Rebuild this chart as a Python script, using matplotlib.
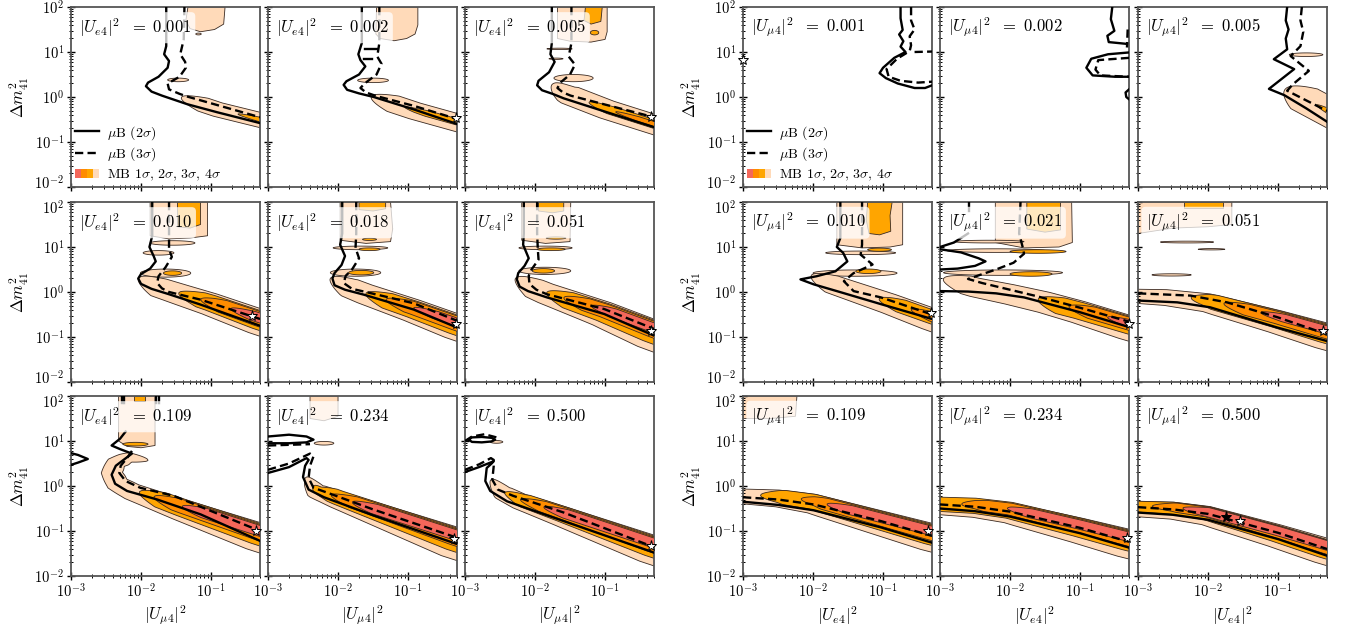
import numpy as np
import matplotlib
matplotlib.use('Agg')
import matplotlib.pyplot as plt
import matplotlib.transforms as mtransforms
from matplotlib.lines import Line2D
from matplotlib.patches import Patch
from matplotlib.legend_handler import HandlerTuple

plt.rcParams['mathtext.fontset'] = 'cm'
plt.rcParams['font.family'] = 'serif'
plt.rcParams['font.serif'] = ['cmr10']
plt.rcParams['axes.formatter.use_mathtext'] = True
plt.rcParams['axes.unicode_minus'] = False

# valores fijos de cada panel (fila por fila)
LEFT_FIXED = ['0.001', '0.002', '0.005', '0.010', '0.018', '0.051', '0.109', '0.234', '0.500']
RIGHT_FIXED = ['0.001', '0.002', '0.005', '0.010', '0.021', '0.051', '0.109', '0.234', '0.500']

# colores MB: 4sigma, 3sigma, 2sigma, 1sigma
MB_COLORS = ['#FFDAB9', '#FFA500', '#FF8C00', '#F4675A']

# --- contornos, en (log10 x, log10 y) ---
# muB 2 sigma (linea continua), grupo izquierdo
left_mub2 = [
    [[(-1.64, 2.0), (-1.64, 1.13), (-1.67, 0.95), (-1.6, 0.8), (-1.62, 0.65), (-1.75, 0.45), (-1.9, 0.32), (-1.93, 0.24), (-1.85, 0.12), (-1.7, 0.03), (-1.34, -0.16), (-0.91, -0.34), (-0.3, -0.58)]],
    [[(-1.66, 2.0), (-1.66, 1.2), (-1.71, 0.95), (-1.68, 0.82), (-1.61, 0.68), (-1.7, 0.5), (-1.88, 0.35), (-1.92, 0.27), (-1.87, 0.16), (-1.7, 0.08), (-1.49, 0.0), (-0.91, -0.28), (-0.3, -0.6)],
     [(-1.61, 1.07), (-1.44, 1.07)], [(-1.63, 0.84), (-1.52, 0.84)]],
    [[(-1.76, 2.0), (-1.76, 1.2), (-1.78, 0.95), (-1.72, 0.78), (-1.8, 0.55), (-1.95, 0.36), (-1.97, 0.26), (-1.9, 0.15), (-1.75, 0.07), (-1.59, -0.03), (-0.97, -0.34), (-0.3, -0.67)]],
    [[(-1.84, 2.0), (-1.84, 1.25), (-1.88, 1.0), (-1.82, 0.8), (-1.79, 0.68), (-1.87, 0.52), (-2.0, 0.4), (-2.04, 0.3), (-2.0, 0.18), (-1.85, 0.07), (-1.6, -0.05), (-1.15, -0.28), (-0.3, -0.75)]],
    [[(-1.94, 2.0), (-1.94, 1.3), (-1.97, 1.05), (-1.9, 0.8), (-1.95, 0.6), (-2.05, 0.42), (-2.08, 0.3), (-2.05, 0.15), (-1.9, 0.05), (-1.63, -0.06), (-0.92, -0.39), (-0.3, -0.79)]],
    [[(-2.16, 2.0), (-2.16, 1.3), (-2.17, 1.05), (-2.09, 0.75), (-2.15, 0.58), (-2.24, 0.42), (-2.26, 0.28), (-2.22, 0.12), (-2.1, 0.02), (-1.83, -0.12), (-1.01, -0.49), (-0.3, -0.97)]],
    [[(-2.22, 1.21), (-2.3, 1.05), (-2.42, 0.9), (-2.3, 0.82), (-2.13, 0.72), (-2.25, 0.58), (-2.36, 0.45), (-2.42, 0.25), (-2.37, 0.05), (-2.2, -0.11), (-1.77, -0.3), (-1.15, -0.63), (-0.3, -1.22)],
     [(-3.0, 0.73), (-2.9, 0.69), (-2.76, 0.6), (-2.9, 0.52), (-3.0, 0.47)],
     [(-2.27, 2.0), (-2.27, 1.85)], [(-1.78, 2.0), (-1.78, 1.85)]],
    [[(-3.0, 0.29), (-2.7, 0.42), (-2.45, 0.62), (-2.42, 0.58), (-2.47, 0.45), (-2.5, 0.2), (-2.42, -0.08), (-2.2, -0.25), (-1.5, -0.65), (-0.3, -1.29)],
     [(-3.0, 1.1), (-2.7, 1.14), (-2.45, 1.1), (-2.35, 1.03), (-2.45, 0.97), (-2.7, 0.95), (-3.0, 0.95)]],
    [[(-3.0, 0.31), (-2.8, 0.42), (-2.59, 0.55), (-2.62, 0.5), (-2.69, 0.4), (-2.71, 0.11), (-2.64, -0.11), (-2.4, -0.34), (-1.59, -0.78), (-0.3, -1.48)],
     [(-2.95, 1.03), (-2.9, 1.08), (-2.76, 1.09), (-2.62, 1.07), (-2.57, 1.03), (-2.62, 0.99), (-2.76, 0.97), (-2.9, 0.98), (-2.95, 1.03)]],
]

# muB 3 sigma (discontinua), grupo izquierdo
left_mub3 = [
    [[(-1.38, 2.0), (-1.39, 1.28), (-1.44, 0.95), (-1.37, 0.78), (-1.36, 0.65), (-1.45, 0.45), (-1.62, 0.3), (-1.6, 0.17), (-1.45, 0.07), (-1.34, 0.01), (-0.91, -0.18), (-0.3, -0.45)]],
    [[(-1.41, 2.0), (-1.41, 1.2), (-1.44, 0.9), (-1.38, 0.74), (-1.45, 0.5), (-1.62, 0.3), (-1.68, 0.2), (-1.6, 0.1), (-1.45, 0.02), (-0.91, -0.2), (-0.3, -0.49)]],
    [[(-1.48, 2.0), (-1.48, 1.2), (-1.52, 0.9), (-1.43, 0.72), (-1.5, 0.5), (-1.63, 0.33), (-1.68, 0.2), (-1.6, 0.1), (-1.49, 0.03), (-0.97, -0.18), (-0.3, -0.45)]],
    [[(-1.6, 2.0), (-1.6, 1.1), (-1.6, 0.95), (-1.56, 0.78), (-1.65, 0.55), (-1.75, 0.35), (-1.77, 0.2), (-1.7, 0.08), (-1.6, 0.0), (-1.15, -0.17), (-0.3, -0.6)]],
    [[(-1.74, 2.0), (-1.74, 1.3), (-1.75, 0.98), (-1.7, 0.75), (-1.8, 0.5), (-1.89, 0.36), (-1.92, 0.2), (-1.8, 0.07), (-1.63, 0.01), (-0.92, -0.25), (-0.3, -0.64)]],
    [[(-1.97, 2.0), (-1.97, 1.3), (-1.96, 0.95), (-1.95, 0.72), (-2.05, 0.5), (-2.09, 0.36), (-2.08, 0.18), (-1.98, 0.05), (-1.83, -0.05), (-1.01, -0.38), (-0.3, -0.82)]],
    [[(-2.13, 0.78), (-2.2, 0.62), (-2.29, 0.45), (-2.31, 0.29), (-2.22, 0.11), (-2.01, -0.04), (-1.53, -0.22), (-0.3, -1.0)],
     [(-2.25, 2.0), (-2.25, 1.8)], [(-1.75, 2.0), (-1.75, 1.8)]],
    [[(-3.0, 0.36), (-2.7, 0.5), (-2.4, 0.72), (-2.35, 0.66), (-2.4, 0.45), (-2.42, 0.18), (-2.35, -0.04), (-2.15, -0.15), (-1.5, -0.52), (-0.3, -1.15)],
     [(-3.0, 0.9), (-2.4, 0.93)]],
    [[(-3.0, 0.36), (-2.8, 0.48), (-2.63, 0.62), (-2.59, 0.58), (-2.59, 0.44), (-2.61, 0.14), (-2.53, -0.08), (-2.31, -0.22), (-1.59, -0.59), (-0.3, -1.36)],
     [(-3.0, 1.0), (-2.9, 1.1), (-2.72, 1.15), (-2.55, 1.08), (-2.52, 1.0)]],
]

# eje central de la banda diagonal MB (grupo izquierdo)
left_center = [
    [(-1.42, 0.0), (-0.9, -0.27), (-0.3, -0.5)],
    [(-1.52, 0.02), (-0.9, -0.3), (-0.3, -0.56)],
    [(-1.74, 0.3), (-1.55, 0.08), (-0.97, -0.27), (-0.3, -0.6)],
    [(-2.03, 0.32), (-1.75, 0.12), (-1.4, -0.04), (-1.0, -0.22), (-0.3, -0.58)],
    [(-2.1, 0.32), (-1.85, 0.12), (-1.6, -0.02), (-0.92, -0.35), (-0.3, -0.68)],
    [(-2.27, 0.32), (-2.0, 0.1), (-1.83, 0.0), (-1.0, -0.4), (-0.3, -0.8)],
    [(-1.9, 0.57), (-2.15, 0.62), (-2.33, 0.5), (-2.38, 0.3), (-2.3, 0.08), (-2.1, -0.08), (-1.4, -0.45), (-0.3, -1.0)],
    [(-2.45, 0.2), (-2.3, -0.08), (-2.0, -0.25), (-1.5, -0.5), (-0.3, -1.1)],
    [(-2.62, 0.15), (-2.45, -0.12), (-2.2, -0.3), (-1.6, -0.6), (-0.3, -1.27)],
]

# niveles (inicio en log10 x, ancho arriba, ancho abajo) para 4s, 3s, 2s, 1s
left_levels = [
    [(-9, 0.15, 0.17), (-0.62, 0.05, 0.05), None, None],
    [(-9, 0.18, 0.2), (-1.05, 0.07, 0.06), None, None],
    [(-9, 0.2, 0.22), (-1.23, 0.09, 0.09), (-0.85, 0.05, 0.05), None],
    [(-9, (0.2, 0.19), (0.2, 0.36)), (-1.46, 0.15, (0.12, 0.25)), (-1.15, 0.13, (0.1, 0.18)), (-0.72, 0.1, 0.1)],
    [(-9, (0.2, 0.18), (0.2, 0.37)), (-1.6, 0.15, (0.15, 0.26)), (-1.32, 0.13, (0.1, 0.17)), (-0.92, 0.09, 0.08)],
    [(-9, (0.2, 0.17), (0.2, 0.47)), (-1.83, 0.15, (0.15, 0.32)), (-1.59, 0.13, (0.1, 0.2)), (-1.2, 0.1, 0.1)],
    [(-9, (0.1, 0.17), (0.12, 0.44)), (-2.03, 0.15, (0.1, 0.3)), (-1.82, 0.13, (0.08, 0.2)), (-1.41, 0.11, 0.11)],
    [(-9, (0.12, 0.17), (0.15, 0.5)), (-2.35, 0.15, (0.1, 0.34)), (-2.1, 0.13, (0.08, 0.22)), (-1.8, 0.11, 0.11)],
    [(-9, (0.12, 0.16), (0.15, 0.45)), (-2.43, 0.14, (0.1, 0.3)), (-2.21, 0.12, (0.08, 0.2)), (-1.88, 0.1, 0.1)],
]

# islas MB (centro x, centro y, semiancho, semialto, nivel)
left_blobs = [
    [(-1.47, 0.38, 0.15, 0.04, 0), (-1.18, 1.4, 0.04, 0.02, 0)],
    [(-1.5, 0.37, 0.22, 0.05, 0)],
    [(-1.45, 0.42, 0.28, 0.08, 0), (-1.65, 1.07, 0.18, 0.015, 0), (-1.7, 0.85, 0.1, 0.015, 0), (-1.15, 1.43, 0.06, 0.05, 1)],
    [(-1.65, 0.42, 0.36, 0.09, 0), (-1.55, 0.42, 0.13, 0.05, 1), (-1.55, 1.09, 0.32, 0.05, 0), (-1.75, 0.87, 0.22, 0.05, 0)],
    [(-1.75, 0.43, 0.36, 0.08, 0), (-1.67, 0.43, 0.18, 0.05, 1), (-1.68, 0.98, 0.39, 0.04, 0), (-1.55, 0.95, 0.15, 0.03, 1), (-1.55, 1.17, 0.1, 0.025, 1)],
    [(-1.86, 0.47, 0.37, 0.08, 0), (-1.88, 0.47, 0.16, 0.05, 1), (-1.85, 0.98, 0.38, 0.04, 0), (-1.77, 0.95, 0.2, 0.03, 1), (-1.7, 1.2, 0.14, 0.025, 1)],
    [(-2.08, 0.93, 0.18, 0.04, 1)],
    [(-2.2, 0.95, 0.14, 0.04, 0)],
    [(-2.55, 0.98, 0.09, 0.03, 0)],
]

# regiones MB que llegan al borde superior (nivel, vertices)
left_cols = [
    [(0, [(-1.33, 2.0), (-1.36, 1.7), (-1.3, 1.52), (-1.15, 1.45), (-0.95, 1.5), (-0.82, 1.62), (-0.8, 2.0)])],
    [(0, [(-1.45, 2.0), (-1.46, 1.4), (-1.4, 1.3), (-1.2, 1.25), (-1.02, 1.3), (-0.9, 1.4), (-0.86, 1.6), (-0.86, 2.0)])],
    [(0, [(-1.68, 2.0), (-1.68, 1.3), (-1.5, 1.24), (-1.2, 1.22), (-1.0, 1.28), (-0.97, 1.45), (-0.97, 2.0)]),
     (1, [(-1.28, 2.0), (-1.3, 1.7), (-1.2, 1.62), (-1.06, 1.68), (-1.04, 2.0)])],
    [(0, [(-1.87, 2.0), (-1.87, 1.25), (-1.6, 1.18), (-1.3, 1.2), (-1.05, 1.25), (-1.05, 2.0)]),
     (1, [(-1.48, 2.0), (-1.48, 1.45), (-1.3, 1.42), (-1.15, 1.5), (-1.15, 2.0)])],
    [(0, [(-1.97, 2.0), (-1.97, 1.15), (-1.6, 1.08), (-1.25, 1.12), (-1.22, 1.4), (-1.25, 2.0)]),
     (1, [(-1.7, 2.0), (-1.7, 1.83), (-1.5, 1.8), (-1.32, 1.85), (-1.32, 2.0)])],
    [(0, [(-2.19, 2.0), (-2.19, 1.15), (-1.85, 1.08), (-1.5, 1.12), (-1.49, 2.0)]),
     (1, [(-1.95, 2.0), (-1.95, 1.8), (-1.75, 1.76), (-1.59, 1.8), (-1.59, 2.0)])],
    [(0, [(-2.32, 2.0), (-2.32, 1.0), (-2.2, 0.88), (-2.0, 0.85), (-1.8, 0.9), (-1.8, 2.0)]),
     (1, [(-2.1, 2.0), (-2.1, 1.9), (-1.95, 1.9), (-1.95, 2.0)])],
    [(0, [(-2.4, 2.0), (-2.4, 1.5), (-2.2, 1.45), (-2.0, 1.55), (-2.0, 2.0)])],
    [],
]

left_stars = [[], [(-0.31, -0.47, 'w')], [(-0.34, -0.45, 'w')], [(-0.41, -0.53, 'w')], [(-0.32, -0.7, 'w')],
              [(-0.34, -0.86, 'w')], [(-0.36, -1.0, 'w')], [(-0.35, -1.18, 'w')], [(-0.34, -1.33, 'w')]]

# --- grupo derecho ---
right_mub2 = [
    [[(-0.75, 2.0), (-0.75, 1.75), (-0.72, 1.49), (-0.77, 1.39), (-0.71, 1.24), (-0.75, 1.12), (-0.68, 1.0), (-0.84, 0.87), (-1.0, 0.65), (-1.05, 0.53), (-0.96, 0.42), (-0.79, 0.3), (-0.55, 0.2), (-0.4, 0.2), (-0.3, 0.26)]],
    [[(-0.54, 2.0), (-0.56, 1.73), (-0.51, 1.47), (-0.61, 1.36), (-0.59, 1.22), (-0.33, 1.18)],
     [(-0.3, 0.99), (-0.6, 0.95), (-0.84, 0.85), (-0.91, 0.65), (-0.82, 0.48), (-0.5, 0.45), (-0.3, 0.45)],
     [(-0.3, 0.17), (-0.35, 0.1), (-0.34, 0.0), (-0.3, -0.05)]],
    [[(-0.87, 2.0), (-0.89, 1.7), (-0.85, 1.5), (-0.89, 1.3), (-0.87, 1.06), (-1.06, 0.84), (-0.77, 0.62), (-1.13, 0.18), (-0.91, 0.04), (-0.6, -0.25), (-0.3, -0.55)]],
    [[(-1.61, 2.0), (-1.61, 1.2), (-1.66, 1.0), (-1.57, 0.87), (-1.51, 0.68), (-1.68, 0.46), (-1.95, 0.35), (-2.18, 0.28), (-1.99, 0.17), (-1.66, 0.02), (-1.03, -0.27), (-0.3, -0.6)]],
    [[(-2.58, 2.0), (-2.58, 1.8)], [(-2.6, 1.3), (-2.8, 1.1), (-3.0, 1.0)],
     [(-3.0, 0.95), (-2.7, 0.88), (-2.45, 0.75), (-2.35, 0.68), (-2.5, 0.58), (-2.75, 0.52), (-3.0, 0.5)],
     [(-3.0, 0.02), (-2.6, 0.01), (-2.2, -0.03), (-1.8, -0.12), (-1.0, -0.45), (-0.3, -0.78)]],
    [[(-3.0, -0.19), (-2.44, -0.23), (-1.97, -0.34), (-1.01, -0.79), (-0.3, -1.09)]],
    [[(-3.0, -0.35), (-2.5, -0.42), (-1.99, -0.54), (-1.03, -0.92), (-0.3, -1.26)]],
    [[(-3.0, -0.5), (-2.5, -0.56), (-2.0, -0.68), (-1.0, -1.05), (-0.3, -1.37)]],
    [[(-3.0, -0.59), (-2.5, -0.64), (-2.0, -0.75), (-1.0, -1.18), (-0.3, -1.55)]],
]

right_mub3 = [
    [[(-0.6, 2.0), (-0.6, 1.7), (-0.55, 1.5), (-0.62, 1.35), (-0.6, 1.15), (-0.62, 1.02), (-0.8, 0.85), (-0.95, 0.62), (-0.92, 0.45), (-0.75, 0.36), (-0.5, 0.32), (-0.3, 0.34)],
     [(-0.55, 1.0), (-0.3, 1.01)]],
    [[(-0.32, 1.5), (-0.33, 1.1)], [(-0.3, 0.87), (-0.74, 0.82), (-0.78, 0.61), (-0.71, 0.48), (-0.3, 0.45)]],
    [[(-0.66, 2.0), (-0.68, 1.7), (-0.64, 1.45), (-0.68, 1.13), (-0.82, 0.91), (-0.56, 0.58), (-0.79, 0.28), (-0.87, 0.14), (-0.63, -0.05), (-0.3, -0.31)]],
    [[(-1.3, 2.0), (-1.3, 1.05), (-1.32, 0.83), (-1.15, 0.61), (-1.42, 0.42), (-1.56, 0.24), (-1.42, 0.02), (-1.03, -0.12), (-0.3, -0.5)]],
    [[(-1.85, 2.0), (-1.87, 1.3), (-1.82, 1.0), (-1.8, 0.85), (-1.95, 0.65), (-2.2, 0.5), (-2.6, 0.29), (-2.4, 0.2), (-2.0, 0.05), (-1.6, -0.1), (-1.0, -0.35), (-0.3, -0.66)]],
    [[(-3.0, -0.03), (-2.25, -0.08), (-1.73, -0.23), (-1.01, -0.56), (-0.3, -0.94)]],
    [[(-3.0, -0.25), (-2.5, -0.3), (-1.99, -0.41), (-1.03, -0.78), (-0.3, -1.11)]],
    [[(-3.0, -0.41), (-2.5, -0.46), (-2.0, -0.57), (-1.0, -0.93), (-0.3, -1.24)]],
    [[(-3.0, -0.47), (-2.5, -0.52), (-2.0, -0.62), (-1.0, -1.04), (-0.3, -1.4)]],
]

right_center = [
    None,
    None,
    [(-0.88, 0.2), (-0.6, -0.05), (-0.3, -0.3)],
    [(-2.02, 0.38), (-1.7, 0.18), (-1.3, -0.02), (-0.9, -0.22), (-0.3, -0.55)],
    [(-2.95, 0.3), (-2.5, 0.12), (-2.0, -0.02), (-1.5, -0.18), (-1.0, -0.38), (-0.3, -0.7)],
    [(-3.4, -0.03), (-2.6, -0.06), (-2.0, -0.16), (-1.0, -0.55), (-0.3, -0.85)],
    [(-3.4, -0.17), (-2.5, -0.22), (-2.0, -0.32), (-1.0, -0.72), (-0.3, -1.0)],
    [(-3.4, -0.37), (-2.5, -0.41), (-2.0, -0.5), (-1.0, -0.86), (-0.3, -1.13)],
    [(-3.4, -0.42), (-2.5, -0.46), (-2.0, -0.56), (-1.0, -0.98), (-0.3, -1.3)],
]

right_levels = [
    None,
    None,
    [(-9, 0.28, 0.3), (-0.45, 0.07, 0.06), None, None],
    [(-9, 0.18, (0.2, 0.3)), (-1.06, 0.14, 0.15), (-0.6, 0.11, 0.1), None],
    [(-9, (0.2, 0.17), (0.2, 0.36)), (-1.6, 0.15, 0.22), (-1.16, 0.13, 0.14), (-0.61, 0.09, 0.08)],
    [(-9, (0.1, 0.15), (0.18, 0.42)), (-2.25, 0.13, (0.12, 0.28)), (-1.78, 0.11, (0.08, 0.18)), (-1.25, 0.09, 0.08)],
    [(-9, (0.12, 0.16), (0.17, 0.44)), (-2.76, 0.14, (0.12, 0.3)), (-2.18, 0.12, (0.08, 0.2)), (-1.8, 0.1, 0.1)],
    [(-9, (0.1, 0.16), (0.22, 0.46)), (-3.5, 0.14, (0.16, 0.3)), (-2.7, 0.12, (0.1, 0.2)), (-2.04, 0.1, 0.1)],
    [(-9, (0.09, 0.13), (0.22, 0.43)), (-3.5, 0.1, (0.12, 0.3)), (-2.8, 0.09, (0.08, 0.2)), (-2.37, 0.08, 0.12)],
]

right_blobs = [
    [],
    [],
    [(-0.6, 0.94, 0.24, 0.04, 0)],
    [(-1.4, 0.42, 0.6, 0.07, 0), (-1.21, 0.46, 0.18, 0.05, 1), (-1.32, 0.87, 0.5, 0.04, 0), (-1.05, 0.94, 0.17, 0.035, 1)],
    [(-2.1, 0.43, 0.85, 0.06, 0), (-1.7, 0.4, 0.3, 0.05, 1), (-1.6, 0.9, 0.4, 0.04, 1), (-2.2, 0.92, 0.7, 0.04, 0), (-2.3, 1.12, 0.5, 0.03, 0)],
    [(-2.3, 1.11, 0.38, 0.02, 0), (-1.95, 0.95, 0.19, 0.015, 0), (-2.52, 0.38, 0.28, 0.025, 0)],
    [],
    [],
    [],
]

right_cols = [
    [],
    [],
    [],
    [(0, [(-1.66, 2.0), (-1.66, 1.05), (-1.3, 0.98), (-0.9, 1.0), (-0.72, 1.05), (-0.72, 2.0)]),
     (1, [(-1.22, 2.0), (-1.24, 1.6), (-1.2, 1.3), (-1.05, 1.27), (-0.89, 1.35), (-0.9, 1.7), (-0.87, 2.0)])],
    [(0, [(-2.21, 2.0), (-2.21, 1.1), (-1.8, 0.98), (-1.3, 1.0), (-1.11, 1.1), (-1.12, 2.0)]),
     (1, [(-1.76, 2.0), (-1.76, 1.4), (-1.5, 1.33), (-1.28, 1.38), (-1.28, 2.0)])],
    [(0, [(-3.0, 2.0), (-3.0, 1.3), (-2.5, 1.42), (-2.0, 1.45), (-1.66, 1.5), (-1.66, 2.0)]),
     (1, [(-2.35, 2.0), (-2.35, 1.87), (-1.78, 1.87), (-1.78, 2.0)])],
    [(0, [(-3.0, 2.0), (-3.0, 1.5), (-2.6, 1.5), (-2.25, 1.55), (-2.23, 2.0)])],
    [],
    [],
]

right_stars = [[(-3.0, 0.83, 'w')], [], [], [(-0.32, -0.47, 'w')], [(-0.3, -0.72, 'w')], [(-0.36, -0.86, 'w')],
               [(-0.36, -1.0, 'w')], [(-0.33, -1.15, 'w')], [(-1.55, -0.78, 'w'), (-1.74, -0.69, 'k')]]

EDGE = '#3a2a22'


def width(w, t):
    if isinstance(w, tuple):
        return w[0] + (w[1] - w[0]) * t
    return w * np.ones_like(t)


def band_outline(center, start, up, down, taper=0.35):
    c = np.asarray(center, float)
    # prolongar el ultimo tramo fuera del eje para que la banda llegue al borde
    d = c[-1] - c[-2]
    c = np.vstack([c, c[-1] + d / np.hypot(*d) * 0.5])
    seg = np.hypot(np.diff(c[:, 0]), np.diff(c[:, 1]))
    s = np.concatenate([[0.0], np.cumsum(seg)])
    ss = np.linspace(0.0, s[-1], 300)
    lx = np.interp(ss, s, c[:, 0])
    ly = np.interp(ss, s, c[:, 1])
    tx, ty = np.gradient(lx), np.gradient(ly)
    k = np.ones(31) / 31
    tx = np.convolve(np.pad(tx, 15, mode='edge'), k, mode='valid')
    ty = np.convolve(np.pad(ty, 15, mode='edge'), k, mode='valid')
    nrm = np.hypot(tx, ty)
    nx, ny = -ty / nrm, tx / nrm
    below = np.nonzero(lx < start)[0]
    i0 = below[-1] + 1 if len(below) else 0
    t = np.clip(ss[i0:] / s[-2], 0, 1)
    f = np.sqrt(np.clip((ss[i0:] - ss[i0]) / taper, 0, 1))
    wu = width(up, t) * f
    wd = width(down, t) * f
    ux, uy = lx[i0:] + nx[i0:] * wu, ly[i0:] + ny[i0:] * wu
    dx, dy = lx[i0:] - nx[i0:] * wd, ly[i0:] - ny[i0:] * wd
    px = np.concatenate([ux, dx[::-1]])
    py = np.concatenate([uy, dy[::-1]])
    return 10 ** px, 10 ** py


def blob_outline(lx, ly, hw, hh):
    th = np.linspace(0, 2 * np.pi, 80)
    return 10 ** (lx + hw * np.cos(th)), 10 ** (ly + hh * np.sin(th))


def draw_panel(ax, mub2, mub3, center, levels, blobs, cols, stars, label):
    for lev in range(4):
        for (lv, verts) in cols:
            if lv == lev:
                v = np.asarray(verts, float)
                ax.fill(10 ** v[:, 0], 10 ** v[:, 1], fc=MB_COLORS[lev], ec=EDGE, lw=0.6, zorder=1 + lev)
        for (bx, by, hw, hh, lv) in blobs:
            if lv == lev:
                x, y = blob_outline(bx, by, hw, hh)
                ax.fill(x, y, fc=MB_COLORS[lev], ec=EDGE, lw=0.6, zorder=1 + lev)
        if center is not None and levels[lev] is not None:
            st, up, dn = levels[lev]
            x, y = band_outline(center, st, up, dn)
            ax.fill(x, y, fc=MB_COLORS[lev], ec=EDGE, lw=0.6, zorder=1 + lev)

    for line in mub2:
        v = np.asarray(line, float)
        ax.plot(10 ** v[:, 0], 10 ** v[:, 1], color='k', lw=1.7, zorder=6)
    for line in mub3:
        v = np.asarray(line, float)
        ax.plot(10 ** v[:, 0], 10 ** v[:, 1], color='k', lw=1.7, ls='--', dashes=(3.5, 1.8), zorder=6)
    for (sx, sy, fc) in stars:
        ax.plot(10 ** sx, 10 ** sy, marker='*', ms=8, mfc=fc, mec='k', mew=0.7, zorder=7, clip_on=False)

    ax.text(0.04, 0.885, label, transform=ax.transAxes, fontsize=12, va='center', ha='left', zorder=9,
            bbox=dict(boxstyle='round,pad=0.25', fc='white', ec='none', alpha=0.75))


fig = plt.figure(figsize=(13.51, 6.28), dpi=100)
W, H = 1351.0, 628.0
col_px = {'left': [71, 268, 465], 'right': [743, 940, 1138]}
row_px = [7, 202, 396]
pw, ph = 189, 180

groups = [
    ('left', LEFT_FIXED, r'$|U_{e4}|^2\ \ =\ %s$', r'$|U_{\mu4}|^2$',
     left_mub2, left_mub3, left_center, left_levels, left_blobs, left_cols, left_stars),
    ('right', RIGHT_FIXED, r'$|U_{\mu4}|^2\ \ =\ %s$', r'$|U_{e4}|^2$',
     right_mub2, right_mub3, right_center, right_levels, right_blobs, right_cols, right_stars),
]

left_axes = []
for (side, fixed, fmt, xlab, mub2, mub3, centers, levels, blobs, cols, stars) in groups:
    for i in range(9):
        r, c = divmod(i, 3)
        left = col_px[side][c] / W
        bottom = 1 - (row_px[r] + ph) / H
        ax = fig.add_axes([left, bottom, pw / W, ph / H])
        ax.set_xscale('log')
        ax.set_yscale('log')
        ax.set_xlim(1e-3, 0.5)
        ax.set_ylim(1e-2, 1e2)
        ax.set_facecolor('white')

        draw_panel(ax, mub2[i], mub3[i], centers[i], levels[i], blobs[i], cols[i], stars[i],
                   fmt % fixed[i])

        ax.tick_params(which='both', direction='inout', top=False, right=False, labelsize=10.5, pad=2)
        ax.tick_params(which='major', length=6, width=1.0)
        ax.tick_params(which='minor', length=3, width=0.7)
        for sp in ax.spines.values():
            sp.set_color('#555555')
            sp.set_linewidth(1.3)
        if c == 0:
            ax.set_ylabel(r'$\Delta m^2_{41}$', fontsize=12, labelpad=2)
            left_axes.append((ax, r))
        else:
            ax.tick_params(labelleft=False)
        if r == 2:
            ax.set_xlabel(xlab, fontsize=12, labelpad=2)
        else:
            ax.tick_params(labelbottom=False)

        if i == 0:
            handles = [Line2D([], [], color='k', lw=1.7),
                       Line2D([], [], color='k', lw=1.7, ls='--', dashes=(3.5, 1.8)),
                       tuple(Patch(fc=col, ec='none') for col in MB_COLORS[::-1])]
            labels = [r'$\mu$B ($2\sigma$)', r'$\mu$B ($3\sigma$)',
                      r'MB $1\sigma$, $2\sigma$, $3\sigma$, $4\sigma$']
            ax.legend(handles, labels, loc='lower left', frameon=False, fontsize=10,
                      handlelength=1.7, handletextpad=0.6, borderaxespad=0.1, labelspacing=0.3,
                      borderpad=0.2, handler_map={tuple: HandlerTuple(ndivide=None, pad=0)})

# separar un poco las etiquetas 10^2 / 10^-2 que se tocan entre filas
fig.canvas.draw()
for ax, r in left_axes:
    for tick in ax.yaxis.get_major_ticks():
        loc = tick.get_loc()
        if np.isclose(loc, 1e2) and r > 0:
            off = mtransforms.ScaledTranslation(0, -3.5 / 72, fig.dpi_scale_trans)
            tick.label1.set_transform(tick.label1.get_transform() + off)
        elif np.isclose(loc, 1e-2) and r < 2:
            off = mtransforms.ScaledTranslation(0, 3.5 / 72, fig.dpi_scale_trans)
            tick.label1.set_transform(tick.label1.get_transform() + off)

fig.savefig('out.png', dpi=100)
